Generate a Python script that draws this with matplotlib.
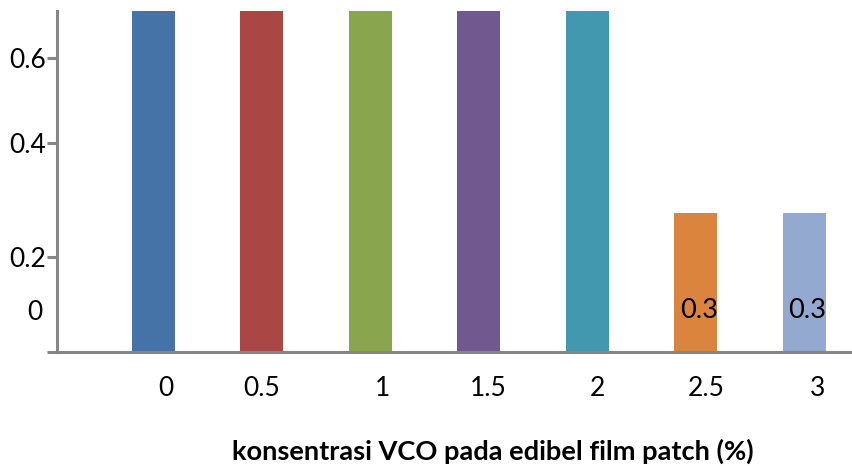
import matplotlib
matplotlib.use("Agg")
import matplotlib.pyplot as plt
from matplotlib.transforms import blended_transform_factory

plt.rcParams['font.family'] = ['Lato', 'DejaVu Sans']

# Data
categories = ['0', '0.5', '1', '1.5', '2', '2.5', '3']
values = [1.0, 1.0, 1.0, 1.0, 1.0, 0.3, 0.3]
labelled = [False, False, False, False, False, True, True]
colors = ['#4572A7', '#AA4643', '#89A54E', '#71588F', '#4198AF', '#DB843D', '#93A9CF']
ytick_labels = ['0.2', '0.4', '0.6']
ytick_pos = [0.205, 0.451, 0.635]
xlabel = 'konsentrasi VCO pada edibel film patch (%)'

fig = plt.figure(figsize=(8.52, 4.66), dpi=100)
ax = fig.add_axes([57 / 852, 1 - 352 / 466, 1 - 57 / 852, (352 - 11) / 466])

x = list(range(len(categories)))
ax.bar(x, values, width=0.396, color=colors, zorder=2)

ax.set_xlim(-0.889, 6.438)
ax.set_ylim(0, 0.7365)

axis_color = '#868686'
for side in ['top', 'right']:
    ax.spines[side].set_visible(False)
for side in ['left', 'bottom']:
    ax.spines[side].set_color(axis_color)
    ax.spines[side].set_linewidth(2.2)
    ax.spines[side].set_zorder(3)

# y ticks
ax.set_yticks([0] + ytick_pos)
ax.set_yticklabels([''] + ytick_labels)
ax.tick_params(axis='y', length=7, width=2.2, color=axis_color, pad=1,
               labelsize=19, labelcolor='black')
trans = blended_transform_factory(ax.transAxes, ax.transData)
ax.text(-14 / 795, 0.086, '0', transform=trans, ha='right', va='center',
        fontsize=19, color='black')

# x ticks, labels sit slightly right of each bar
xoffs = [0.115, 0.0, 0.115, 0.09, 0.09, 0.09, 0.125]
ax.set_xticks([xi + o for xi, o in zip(x, xoffs)])
ax.set_xticklabels(categories)
ax.tick_params(axis='x', length=0, pad=17, labelsize=19, labelcolor='black')

# data labels
for xi, v, show in zip(x, values, labelled):
    if show:
        ax.annotate(f'{v:g}', (xi, 0), xytext=(2, 30), textcoords='offset points',
                    ha='center', va='center', fontsize=19.5, color='black', zorder=4)

fig.text(493 / 852, 1 - 451 / 466, xlabel, ha='center', va='center',
         fontsize=19.6, fontweight='bold', color='black')

fig.savefig('out.png', dpi=100)
